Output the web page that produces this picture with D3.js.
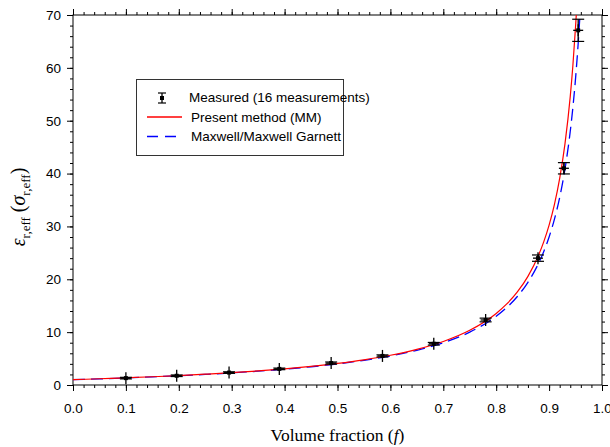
<!DOCTYPE html>
<html><head><meta charset="utf-8">
<script src="https://cdn.jsdelivr.net/npm/d3@7"></script>
<style>body{margin:0;background:#fff}svg{display:block}</style>
</head><body>
<script>
// ---- data ----
const measF   = [0.100, 0.196, 0.295, 0.390, 0.488, 0.585, 0.682, 0.780, 0.879, 0.928, 0.955];
const measV   = [1.30, 1.75, 2.35, 3.05, 4.15, 5.50, 7.80, 12.3, 24.0, 41.0, 67.1];
const measErr = [0.15, 0.15, 0.15, 0.15, 0.20, 0.20, 0.25, 0.35, 0.60, 1.07, 2.10];

const curveF   = [0, 0.05, 0.10, 0.15, 0.20, 0.25, 0.30, 0.35, 0.40, 0.45, 0.50, 0.55, 0.60, 0.65, 0.70, 0.75, 0.80, 0.82, 0.84, 0.86, 0.88, 0.89, 0.90, 0.91, 0.92, 0.93, 0.94, 0.945, 0.95, 0.955, 0.958];
const presentV = [1.00, 1.18, 1.36, 1.56, 1.78, 2.04, 2.33, 2.67, 3.06, 3.53, 4.09, 4.77, 5.63, 6.75, 8.24, 10.35, 13.54, 15.34, 17.61, 20.56, 24.55, 27.13, 30.26, 34.14, 39.10, 45.62, 54.60, 60.5, 67.8, 76.0, 82.0];
const maxwellV = [1.00, 1.16, 1.33, 1.53, 1.75, 2.00, 2.29, 2.62, 3.00, 3.45, 4.00, 4.67, 5.50, 6.57, 8.00, 10.00, 13.00, 14.67, 16.75, 19.43, 23.00, 25.27, 28.00, 31.33, 35.50, 40.86, 48.00, 52.55, 58.00, 64.67, 69.4];

const xTicks = [0,0.1,0.2,0.3,0.4,0.5,0.6,0.7,0.8,0.9,1.0];
const yTicks = [0,10,20,30,40,50,60,70];
const legendLabels = ["Measured (16 measurements)", "Present method (MM)", "Maxwell/Maxwell Garnett"];

// ---- layout ----
const W = 610, H = 447;
const L = 73, T = 15, R = 602, B = 385;
const svg = d3.select("body").append("svg").attr("width", W).attr("height", H);
const x = d3.scaleLinear().domain([0,1]).range([L,R]);
const y = d3.scaleLinear().domain([0,70]).range([B,T]);

svg.append("defs").append("clipPath").attr("id","clip")
  .append("rect").attr("x",L).attr("y",T).attr("width",R-L).attr("height",B-T);

const tickFont = "'Liberation Sans', Arial, sans-serif";
const serif = "'Liberation Serif', 'Times New Roman', serif";

const xMinor = d3.range(0,1.0001,0.02);
const yMinor = d3.range(0,70.001,2);

function axisGroup(axis, tr){
  const g = svg.append("g").attr("transform", tr).call(axis);
  g.select(".domain").remove();
  g.selectAll("line").attr("stroke","#000").attr("stroke-width",1);
  g.selectAll("text").attr("font-family",tickFont).attr("font-size",13.5).attr("fill","#000");
  return g;
}
axisGroup(d3.axisBottom(x).tickValues(xMinor).tickSize(3).tickFormat(""), `translate(0,${B})`);
axisGroup(d3.axisBottom(x).tickValues(xTicks).tickSize(6).tickPadding(12).tickFormat(d3.format(".1f")), `translate(0,${B})`);
axisGroup(d3.axisTop(x).tickValues(xMinor).tickSize(3).tickFormat(""), `translate(0,${T})`);
axisGroup(d3.axisTop(x).tickValues(xTicks).tickSize(6).tickFormat(""), `translate(0,${T})`);
axisGroup(d3.axisLeft(y).tickValues(yMinor).tickSize(3).tickFormat(""), `translate(${L},0)`);
axisGroup(d3.axisLeft(y).tickValues(yTicks).tickSize(6).tickPadding(6).tickFormat(d3.format("d")), `translate(${L},0)`);
axisGroup(d3.axisRight(y).tickValues(yMinor).tickSize(3).tickFormat(""), `translate(${R},0)`);
axisGroup(d3.axisRight(y).tickValues(yTicks).tickSize(6).tickFormat(""), `translate(${R},0)`);

svg.append("rect").attr("x",L).attr("y",T).attr("width",R-L).attr("height",B-T)
  .attr("fill","none").attr("stroke","#000").attr("stroke-width",1);

// curves
const plot = svg.append("g").attr("clip-path","url(#clip)");
const line = d3.line().x(d=>x(d[0])).y(d=>y(d[1])).curve(d3.curveMonotoneX);
plot.append("path").datum(curveF.map((f,i)=>[f,maxwellV[i]]))
  .attr("d",line).attr("fill","none").attr("stroke","#0000ff").attr("stroke-width",1.3)
  .attr("stroke-dasharray","12,6");
plot.append("path").datum(curveF.map((f,i)=>[f,presentV[i]]))
  .attr("d",line).attr("fill","none").attr("stroke","#ff0000").attr("stroke-width",1.2);

// measured points
function drawPoint(g, cx, cy, eTop, eBot){
  g.append("line").attr("x1",cx).attr("x2",cx).attr("y1",cy-6).attr("y2",cy+6).attr("stroke","#000").attr("stroke-width",1.3);
  g.append("line").attr("x1",cx).attr("x2",cx).attr("y1",eTop).attr("y2",eBot).attr("stroke","#000").attr("stroke-width",1.3);
  g.append("line").attr("x1",cx-5).attr("x2",cx+5).attr("y1",cy).attr("y2",cy).attr("stroke","#000").attr("stroke-width",1.3);
  [eTop,eBot].forEach(yy=>g.append("line").attr("x1",cx-6).attr("x2",cx+6).attr("y1",yy).attr("y2",yy).attr("stroke","#000").attr("stroke-width",1.2));
  g.append("rect").attr("x",cx-2).attr("y",cy-2).attr("width",4).attr("height",4).attr("fill","#000");
}
const pts = svg.append("g");
measF.forEach((f,i)=>{
  drawPoint(pts, x(f), y(measV[i]), y(measV[i]+measErr[i]), y(measV[i]-measErr[i]));
});

// legend
const lg = svg.append("g");
lg.append("rect").attr("x",136.5).attr("y",79.5).attr("width",207).attr("height",76)
  .attr("fill","#fff").attr("stroke","#333").attr("stroke-width",1);
(function(){
  const cx=162, cy=98;
  lg.append("line").attr("x1",cx).attr("x2",cx).attr("y1",cy-5).attr("y2",cy+5).attr("stroke","#000").attr("stroke-width",1.3);
  [cy-5,cy+5].forEach(yy=>lg.append("line").attr("x1",cx-4).attr("x2",cx+4).attr("y1",yy).attr("y2",yy).attr("stroke","#000").attr("stroke-width",1.2));
  lg.append("rect").attr("x",cx-2).attr("y",cy-2).attr("width",4).attr("height",4).attr("fill","#000");
})();
lg.append("line").attr("x1",147).attr("x2",182).attr("y1",117).attr("y2",117).attr("stroke","#ff0000").attr("stroke-width",1.4);
lg.append("line").attr("x1",147).attr("x2",182).attr("y1",136.5).attr("y2",136.5).attr("stroke","#0000ff").attr("stroke-width",1.3).attr("stroke-dasharray","11,7");
[[189,102],[191,121.5],[191,140.5]].forEach((p,i)=>{
  lg.append("text").attr("x",p[0]).attr("y",p[1]).text(legendLabels[i])
    .attr("font-family",tickFont).attr("font-size",13.5).attr("fill","#000");
});

// axis titles
const xt = svg.append("text").attr("x",(L+R)/2).attr("y",441).attr("text-anchor","middle")
  .attr("font-family",serif).attr("font-size",17.5).attr("fill","#000");
xt.append("tspan").text("Volume fraction (");
xt.append("tspan").attr("font-style","italic").text("f");
xt.append("tspan").text(")");

const yt = svg.append("text").attr("transform",`translate(25,207) rotate(-90)`)
  .attr("text-anchor","middle").attr("font-family",serif).attr("font-size",20).attr("fill","#000");
yt.append("tspan").attr("font-style","italic").text("ε");
yt.append("tspan").attr("font-size",13).attr("dy",5).text("r,eff");
yt.append("tspan").attr("dy",-5).text(" (");
yt.append("tspan").attr("font-style","italic").text("σ");
yt.append("tspan").attr("font-size",13).attr("dy",5).text("r,eff");
yt.append("tspan").attr("dy",-5).text(")");
</script>
</body></html>
